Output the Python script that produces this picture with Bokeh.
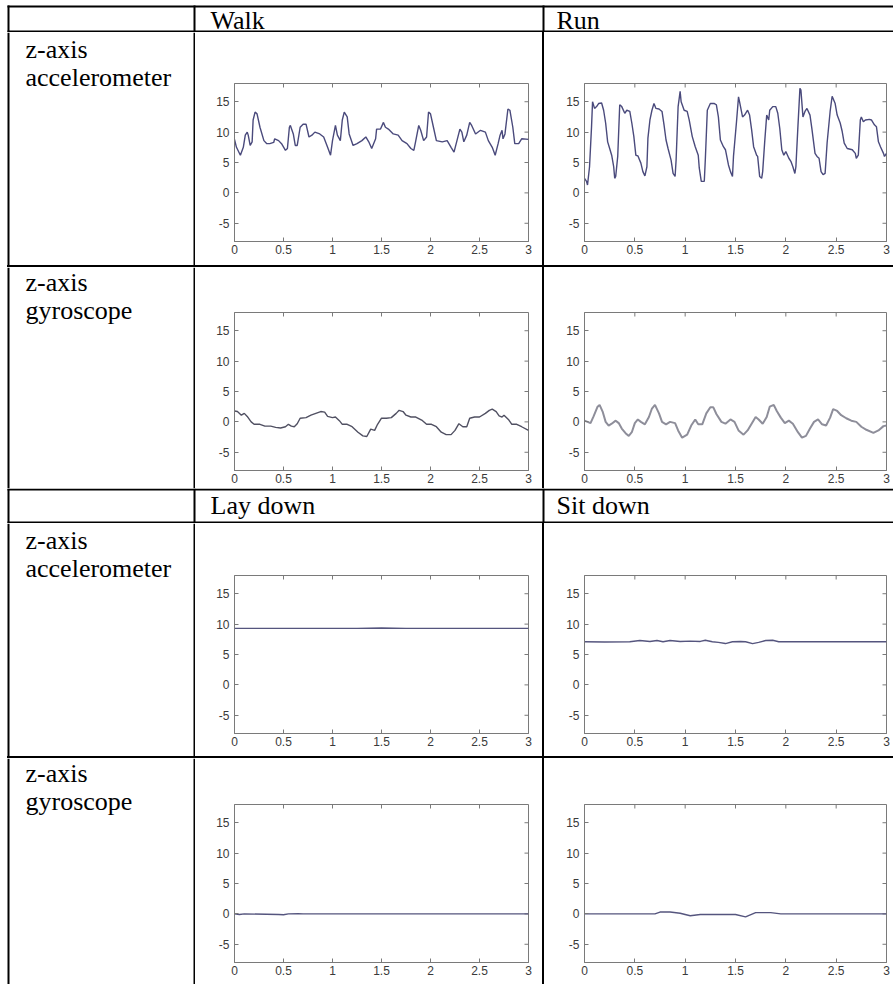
from bokeh.plotting import figure
from bokeh.layouts import column, row
from bokeh.models import Range1d, FixedTicker, Div
from bokeh.embed import file_html
from bokeh.resources import INLINE
from bokeh.core.properties import value

# ---------------- data ----------------
top_headers = ["Walk", "Run"]
bottom_headers = ["Lay down", "Sit down"]
acc_label = ["z-axis", "accelerometer"]
gyro_label = ["z-axis", "gyroscope"]

x_ticks = [0, 0.5, 1, 1.5, 2, 2.5, 3]
x_tick_labels = ["0", "0.5", "1", "1.5", "2", "2.5", "3"]
y_ticks = [-5, 0, 5, 10, 15]
y_tick_labels = ["-5", "0", "5", "10", "15"]

walk_acc_t = [0.00,0.02,0.06,0.09,0.11,0.13,0.14,0.16,0.18,0.19,0.21,0.23,0.26,0.30,0.33,0.36,0.40,0.41,0.45,0.48,
              0.52,0.54,0.56,0.57,0.60,0.62,0.64,0.67,0.70,0.73,0.76,0.79,0.82,0.87,0.91,0.95,0.98,1.00,1.03,1.05,
              1.08,1.10,1.12,1.15,1.17,1.21,1.25,1.30,1.34,1.37,1.40,1.44,1.45,1.49,1.52,1.54,1.57,1.62,1.67,1.71,
              1.76,1.80,1.83,1.85,1.88,1.90,1.93,1.96,1.98,2.00,2.03,2.06,2.12,2.17,2.21,2.24,2.27,2.30,2.32,2.34,
              2.37,2.40,2.42,2.46,2.51,2.56,2.59,2.63,2.66,2.69,2.71,2.73,2.74,2.76,2.79,2.81,2.84,2.86,2.90,2.93,3.00]
walk_acc_v = [8.8,7.5,6.2,7.5,9.5,10.0,9.5,7.8,8.4,12.0,13.3,13.0,10.8,8.6,8.1,8.1,8.3,8.9,8.6,8.1,
              7.0,7.3,10.8,11.1,9.7,7.8,7.8,10.8,11.3,11.3,9.2,9.5,10.0,9.7,9.2,7.5,6.2,8.6,11.1,9.5,
              8.6,12.0,13.3,12.5,9.7,7.8,8.1,8.6,9.2,8.4,7.3,8.9,10.5,10.5,11.6,10.8,10.5,9.7,9.5,8.6,
              8.1,7.3,7.0,8.6,11.1,10.3,8.6,9.2,13.3,13.0,10.8,8.6,8.4,8.6,7.5,6.7,8.6,10.5,10.0,8.4,
              9.5,11.6,11.1,9.7,10.3,10.0,8.6,7.5,6.2,8.1,9.5,10.3,8.9,9.7,13.8,13.6,10.8,8.1,8.1,8.9,8.8]

run_acc_t = [0.00,0.02,0.03,0.05,0.07,0.08,0.10,0.12,0.14,0.17,0.19,0.21,0.23,0.25,0.27,0.29,0.30,0.31,0.33,0.35,
             0.37,0.40,0.42,0.45,0.47,0.49,0.51,0.53,0.56,0.58,0.60,0.62,0.63,0.65,0.67,0.69,0.71,0.74,0.77,0.79,
             0.81,0.83,0.86,0.88,0.90,0.91,0.93,0.95,0.96,0.99,1.02,1.04,1.07,1.10,1.13,1.14,1.16,1.19,1.20,1.22,
             1.25,1.29,1.31,1.33,1.35,1.38,1.40,1.43,1.45,1.47,1.48,1.51,1.53,1.54,1.57,1.59,1.62,1.64,1.66,1.68,
             1.71,1.72,1.74,1.76,1.77,1.79,1.81,1.83,1.84,1.87,1.90,1.92,1.94,1.96,1.98,2.00,2.03,2.05,2.07,2.09,
             2.10,2.12,2.14,2.15,2.17,2.19,2.21,2.24,2.26,2.29,2.31,2.33,2.35,2.37,2.39,2.41,2.44,2.46,2.49,2.51,
             2.54,2.56,2.58,2.61,2.66,2.69,2.70,2.72,2.74,2.75,2.77,2.79,2.83,2.85,2.88,2.90,2.92,2.94,2.97,2.98,3.00]
run_acc_v = [2.4,1.9,1.3,4.3,10.9,15.0,13.9,14.2,14.7,14.8,13.6,11.5,8.4,7.3,6.2,4.3,2.4,2.7,6.0,14.5,
             14.2,13.1,13.6,13.4,11.5,9.3,6.2,6.1,4.9,3.5,2.8,4.3,9.0,12.0,13.6,14.7,13.9,13.8,13.4,11.2,
             8.7,7.3,5.4,3.2,2.7,5.4,14.2,16.7,15.0,13.6,13.4,12.0,9.3,7.6,6.2,4.1,1.9,1.9,5.4,13.6,
             14.7,14.7,14.5,12.5,8.7,7.6,7.1,4.6,3.5,2.7,6.0,11.7,15.8,15.0,12.5,12.8,13.6,12.8,10.4,7.6,
             6.2,6.0,2.7,2.4,3.5,8.4,12.8,12.0,13.6,14.2,14.2,13.1,10.6,7.1,6.2,6.8,5.7,5.2,4.3,3.2,
             4.3,10.9,17.2,16.9,12.5,13.4,13.9,12.8,10.4,6.5,6.0,5.7,3.5,3.0,3.2,8.2,13.4,15.9,14.7,12.8,
             11.5,10.1,8.2,7.3,7.1,6.5,5.7,6.2,12.0,12.5,11.7,12.0,12.1,12.0,11.2,10.9,8.4,7.6,6.5,6.0,6.5]

walk_gyro_t = [0.00,0.03,0.07,0.10,0.13,0.17,0.20,0.26,0.31,0.37,0.42,0.47,0.52,0.55,0.58,0.61,0.64,0.67,0.73,0.78,
               0.83,0.88,0.92,0.95,1.00,1.03,1.07,1.10,1.15,1.20,1.26,1.31,1.35,1.39,1.43,1.46,1.50,1.55,1.60,1.65,
               1.68,1.72,1.75,1.80,1.85,1.91,1.96,2.01,2.06,2.11,2.16,2.21,2.25,2.29,2.33,2.37,2.40,2.45,2.50,2.56,
               2.60,2.63,2.67,2.70,2.73,2.75,2.80,2.83,2.88,2.93,3.00]
walk_gyro_v = [1.8,1.7,1.1,1.4,0.9,0.0,-0.4,-0.4,-0.7,-0.7,-0.9,-1.0,-0.8,-0.4,-0.7,-0.8,-0.3,0.6,0.7,1.1,
               1.4,1.7,1.6,0.9,0.7,0.8,0.2,-0.4,-0.4,-0.8,-1.7,-2.3,-2.4,-1.2,-1.4,-0.4,0.6,0.6,0.7,1.4,
               1.9,1.7,1.1,0.8,0.8,0.3,-0.4,-0.4,-0.8,-1.7,-2.1,-2.1,-1.4,-0.3,-0.8,-0.8,0.6,0.8,0.8,1.4,
               1.9,2.1,1.7,1.0,0.8,1.1,0.3,-0.4,-0.4,-0.8,-1.4]

run_gyro_t = [0.00,0.03,0.06,0.09,0.13,0.15,0.18,0.21,0.24,0.27,0.31,0.34,0.37,0.41,0.44,0.47,0.50,0.53,0.56,0.60,
              0.64,0.67,0.70,0.74,0.77,0.81,0.85,0.90,0.93,0.97,1.02,1.06,1.10,1.13,1.17,1.21,1.25,1.28,1.31,1.36,
              1.40,1.45,1.49,1.53,1.58,1.62,1.66,1.70,1.73,1.77,1.81,1.84,1.88,1.91,1.95,1.99,2.03,2.07,2.12,2.16,
              2.20,2.24,2.28,2.32,2.36,2.40,2.44,2.47,2.51,2.55,2.60,2.65,2.70,2.75,2.80,2.87,2.92,2.97,3.00]
run_gyro_v = [0.2,0.0,-0.2,0.9,2.5,2.8,1.7,0.0,-0.6,-0.3,0.2,-0.2,-1.1,-1.9,-2.3,-1.7,-0.2,0.4,0.0,-0.4,
              0.8,2.2,2.8,1.4,0.0,-0.4,0.0,-0.2,-1.4,-2.6,-2.1,-0.6,0.4,-0.4,-0.4,1.4,2.4,2.4,1.3,0.0,
              -0.3,0.4,0.0,-1.4,-2.1,-1.4,-0.3,0.8,0.4,-0.3,0.8,2.5,2.8,1.8,0.7,-0.2,0.2,-0.3,-1.7,-2.6,
              -2.3,-1.1,0.0,0.4,-0.4,-0.6,0.7,2.1,1.8,1.1,0.6,0.2,0.0,-0.8,-1.3,-1.8,-1.4,-0.7,-0.6]

lay_acc_t = [0, 0.25, 0.5, 0.75, 1, 1.25, 1.5, 1.75, 2, 2.25, 2.5, 2.75, 3]
lay_acc_v = [9.3, 9.3, 9.3, 9.3, 9.3, 9.3, 9.35, 9.3, 9.3, 9.3, 9.3, 9.3, 9.3]

sit_acc_t = [0, 0.2, 0.45, 0.55, 0.65, 0.72, 0.78, 0.85, 0.95, 1.05, 1.15, 1.2, 1.27, 1.33, 1.4, 1.47, 1.55,
             1.6, 1.67, 1.73, 1.8, 1.87, 1.93, 2.0, 2.5, 3.0]
sit_acc_v = [7.1, 7.05, 7.1, 7.3, 7.15, 7.3, 7.1, 7.3, 7.15, 7.2, 7.15, 7.35, 7.1, 7.0, 6.8, 7.1, 7.15,
             7.1, 6.8, 7.0, 7.3, 7.35, 7.1, 7.1, 7.1, 7.1]

lay_gyro_t = [0, 0.05, 0.1, 0.45, 0.5, 0.55, 0.65, 0.7, 1.5, 3]
lay_gyro_v = [0.0, -0.1, 0.0, -0.1, -0.15, 0.0, 0.05, 0.0, 0.0, 0.0]

sit_gyro_t = [0, 0.7, 0.75, 0.85, 0.95, 1.05, 1.15, 1.5, 1.6, 1.7, 1.85, 1.95, 2.5, 3]
sit_gyro_v = [0.0, 0.0, 0.3, 0.3, 0.1, -0.3, -0.1, -0.1, -0.5, 0.2, 0.2, 0.0, 0.0, 0.0]

# ---------------- layout constants (pixels) ----------------
W = 893
X_LEFT = 7          # left table border
X_DIV1 = 193        # first column divider
X_DIV2 = 542        # second column divider
RULE = 2
LBL_W = X_DIV1 + RULE          # 195
C1_W = X_DIV2 - LBL_W          # 347
C2_W = W - X_DIV2 - RULE       # 349
SERIF = value("Liberation Serif")
TXT_SIZE = "26px"
AX_COLOR = "#7a7a7a"
TICK_TXT = "#3a3a3a"
X_MIN, X_MAX = 0, 3
Y_MIN, Y_MAX = -8, 18
TICK_PX = 4


def canvas(w, h):
    f = figure(width=w, height=h, x_range=Range1d(0, w), y_range=Range1d(h, 0),
               output_backend="svg", toolbar_location=None,
               x_axis_location=None, y_axis_location=None, min_border=0,
               frame_align=False)
    f.grid.visible = False
    f.outline_line_color = None
    f.background_fill_color = "white"
    f.border_fill_color = "white"
    return f


def rules(f, lefts, rights, tops, bottoms):
    f.quad(left=lefts, right=rights, top=tops, bottom=bottoms,
           fill_color="black", line_color=None)


def header_fig(h, top_rule, texts, baseline):
    f = canvas(W, h)
    rules(f, [X_LEFT, X_LEFT, X_LEFT, X_DIV1, X_DIV2],
          [W, W, X_LEFT + RULE, X_DIV1 + RULE, X_DIV2 + RULE],
          [top_rule, h - RULE, top_rule, top_rule, top_rule],
          [top_rule + RULE, h, h, h, h])
    f.text(x=[210, 556], y=[baseline, baseline], text=texts,
           text_font=SERIF, text_font_size=TXT_SIZE, text_baseline="alphabetic",
           text_color="black")
    return f


def hrule():
    return row(Div(text="", width=X_LEFT, height=RULE, margin=0),
               Div(text="", width=W - X_LEFT, height=RULE, margin=0,
                   styles={"background-color": "black"}))


def vrule(h):
    return Div(text="", width=RULE, height=h, margin=0, styles={"background-color": "black"})


def label_fig(h, lines, b1, b2):
    f = canvas(LBL_W, h)
    rules(f, [X_LEFT, X_DIV1], [X_LEFT + RULE, X_DIV1 + RULE], [0, 0], [h, h])
    f.text(x=[25, 25], y=[b1, b2], text=lines,
           text_font=SERIF, text_font_size=TXT_SIZE, text_baseline="alphabetic",
           text_color="black")
    return f


def style_axis(ax, overrides, standoff):
    ax.axis_line_color = AX_COLOR
    ax.major_tick_line_color = AX_COLOR
    ax.major_tick_in = TICK_PX
    ax.major_tick_out = 0
    ax.minor_tick_line_color = None
    ax.major_label_text_font = "Liberation Sans"
    ax.major_label_text_color = TICK_TXT
    ax.major_label_text_font_size = "12px"
    ax.major_label_overrides = overrides
    ax.major_label_standoff = standoff


def plot_fig(w, h, ml, mr, mt, mb, t, v, color, lw):
    f = figure(width=w, height=h, x_range=Range1d(X_MIN, X_MAX), y_range=Range1d(Y_MIN, Y_MAX),
               output_backend="svg", toolbar_location=None,
               min_border_left=ml, min_border_right=mr,
               min_border_top=mt, min_border_bottom=mb, frame_align=False)
    f.grid.visible = False
    f.outline_line_color = AX_COLOR
    f.outline_line_width = 1
    f.background_fill_color = "white"
    f.border_fill_color = "white"
    xo = {tk: lb for tk, lb in zip(x_ticks, x_tick_labels)}
    yo = {tk: lb for tk, lb in zip(y_ticks, y_tick_labels)}
    f.xaxis.ticker = FixedTicker(ticks=x_ticks)
    f.yaxis.ticker = FixedTicker(ticks=y_ticks)
    style_axis(f.xaxis[0], xo, 3)
    style_axis(f.yaxis[0], yo, 5)
    # inward ticks on the top and right edges of the box (MATLAB style)
    fw = w - ml - mr
    fh = h - mt - mb
    dy = TICK_PX * (Y_MAX - Y_MIN) / fh
    dx = TICK_PX * (X_MAX - X_MIN) / fw
    f.segment(x0=x_ticks, y0=[Y_MAX] * len(x_ticks), x1=x_ticks, y1=[Y_MAX - dy] * len(x_ticks),
              line_color=AX_COLOR, line_width=1)
    f.segment(x0=[X_MAX] * len(y_ticks), y0=y_ticks, x1=[X_MAX - dx] * len(y_ticks), y1=y_ticks,
              line_color=AX_COLOR, line_width=1)
    f.line(x=t, y=v, line_color=color, line_width=lw)
    return f


ACC_C = "#4a4a7c"
FLAT_C = "#55557e"

# row heights (pixels)
H1 = 32
R1 = 233
R2 = 221
H2 = 35
R3 = 233
R4 = 226

hdr1 = header_fig(H1, 5, top_headers, 20)

row1 = row(label_fig(R1, acc_label, 17, 45),
           plot_fig(C1_W, R1, 39, 14, 51, 24, walk_acc_t, walk_acc_v, ACC_C, 1.4),
           vrule(R1),
           plot_fig(C2_W, R1, 40, 7, 51, 24, run_acc_t, run_acc_v, ACC_C, 1.4))

row2 = row(label_fig(R2, gyro_label, 15, 43),
           plot_fig(C1_W, R2, 39, 14, 45, 18, walk_gyro_t, walk_gyro_v, "#505062", 1.4),
           vrule(R2),
           plot_fig(C2_W, R2, 40, 7, 45, 18, run_gyro_t, run_gyro_v, "#8e8e9a", 2.0))

hdr2 = header_fig(H2, 0, bottom_headers, 17)

row3 = row(label_fig(R3, acc_label, 17, 45),
           plot_fig(C1_W, R3, 39, 14, 52, 23, lay_acc_t, lay_acc_v, FLAT_C, 1.4),
           vrule(R3),
           plot_fig(C2_W, R3, 40, 7, 52, 23, sit_acc_t, sit_acc_v, FLAT_C, 1.4))

row4 = row(label_fig(R4, gyro_label, 15, 43),
           plot_fig(C1_W, R4, 39, 14, 46, 22, lay_gyro_t, lay_gyro_v, FLAT_C, 1.4),
           vrule(R4),
           plot_fig(C2_W, R4, 40, 7, 46, 22, sit_gyro_t, sit_gyro_v, FLAT_C, 1.4))

page = column(hdr1, row1, hrule(), row2, hdr2, row3, hrule(), row4)

open("out.html", "w").write(file_html(page, INLINE))
